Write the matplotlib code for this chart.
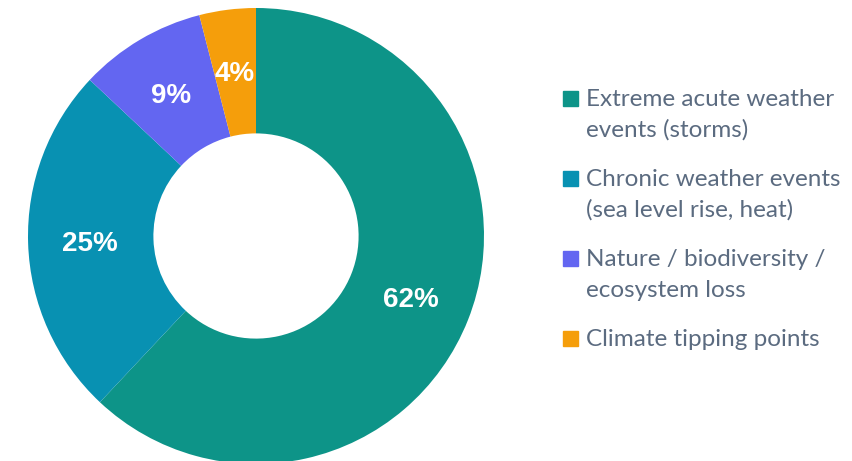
import matplotlib
matplotlib.use("Agg")
import matplotlib.pyplot as plt
from matplotlib.patches import Rectangle

# Share of climate risk drivers
categories = ["Extreme acute weather\nevents (storms)",
              "Chronic weather events\n(sea level rise, heat)",
              "Nature / biodiversity /\necosystem loss",
              "Climate tipping points"]
shares = [62, 25, 9, 4]
colors = ["#0d9488", "#0891b2", "#6366f1", "#f59e0b"]

W, H = 853, 461
fig = plt.figure(figsize=(W / 100, H / 100), dpi=100)

# donut axes: centre (256, 236) px, radius 228 px
cx, cy, r = 256, 236, 228
ax = fig.add_axes([(cx - r) / W, (H - cy - r) / H, 2 * r / W, 2 * r / H])
wedges, texts, autotexts = ax.pie(
    shares, colors=colors, startangle=90, counterclock=False,
    autopct="%d%%", pctdistance=0.73, radius=1,
    wedgeprops=dict(width=0.55, linewidth=0),
    textprops=dict(color="white", fontsize=20, fontweight="bold",
                   family="Liberation Sans", va="center_baseline"))
ax.set_xlim(-1, 1)
ax.set_ylim(-1, 1)
ax.set_aspect("equal")
ax.axis("off")

# legend drawn by hand: square on the first line, each line placed on its baseline
text_color = "#5b6b80"
top = 106
step = 80
line_gap = 31
for i, (label, color) in enumerate(zip(categories, colors)):
    y = top + i * step
    fig.patches.append(Rectangle((563 / W, 1 - y / H), 15 / W, 15 / H,
                                 transform=fig.transFigure, color=color))
    for j, line in enumerate(label.split("\n")):
        fig.text(586 / W, 1 - (y + j * line_gap) / H, line, color=text_color,
                 fontsize=17.5, family="Lato", va="baseline", ha="left")

fig.savefig("out.png", dpi=100)
